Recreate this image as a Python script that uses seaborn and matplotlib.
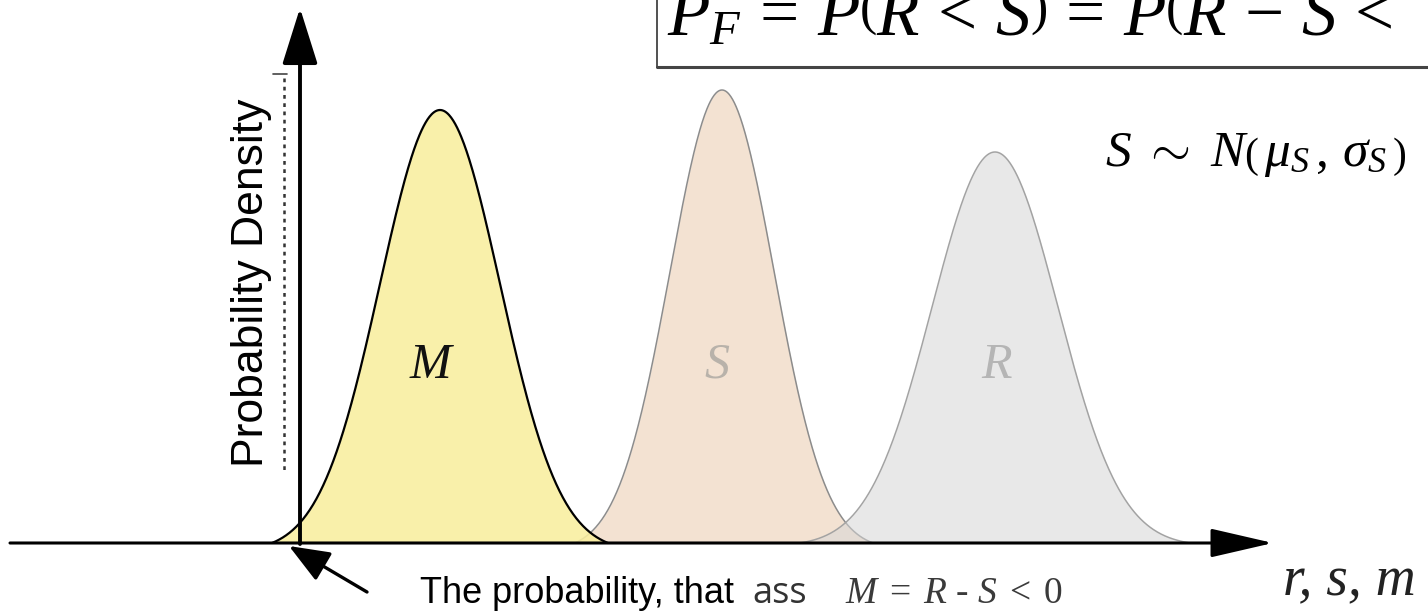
import numpy as np
import pandas as pd
import matplotlib
matplotlib.use("Agg")
import matplotlib.pyplot as plt
import seaborn as sns
from matplotlib.patches import Rectangle

# Safety margin M = R - S, load S and resistance R
names = ["M", "S", "R"]
means = [1.40, 4.22, 6.95]
sigmas = [0.60, 0.52, 0.63]
peaks = [0.433, 0.453, 0.391]
lows = [-0.28, 2.75, 5.00]
highs = [3.08, 5.73, 8.90]

fills = ["#f9ee9e", "#f3e2d2", "#d6d6d6"]
fill_alpha = [0.88, 1.0, 0.55]
edges = ["#000000", "#8c8c8c", "#a3a3a3"]
edge_w = [1.6, 1.1, 1.1]
label_colors = ["#111111", "#b8b2aa", "#b5b5b5"]
label_x = [430, 717, 997]

W, H = 1428, 612
X0, Y0 = 300, 543          # where the two axes cross, in pixels
SX, SY = 100.0, 1000.0     # pixels per data unit


def dx(p):
    return (p - X0) / SX


def dy(p):
    return (Y0 - p) / SY


sns.set_theme(style="white")
plt.rcParams["font.family"] = ["Liberation Sans", "DejaVu Sans"]
plt.rcParams["text.color"] = "black"
plt.rcParams["mathtext.fontset"] = "custom"
plt.rcParams["mathtext.rm"] = "Liberation Serif"
plt.rcParams["mathtext.it"] = "Liberation Serif:italic"
plt.rcParams["mathtext.bf"] = "Liberation Serif:bold"

fig = plt.figure(figsize=(W / 100, H / 100), dpi=100)
ax = fig.add_axes([0, 0, 1, 1])

# bell curves, tapered so that each one meets the baseline at its ends
frames = []
for n, mu, sg, pk, lo, hi in zip(names, means, sigmas, peaks, lows, highs):
    x = np.linspace(lo, hi, 500)
    g = np.exp(-0.5 * ((x - mu) / sg) ** 2)
    e = np.where(x < mu, g[0], g[-1])
    y = pk * np.clip((g - e) / (1 - e), 0, None)
    frames.append(pd.DataFrame({"x": x, "density": y, "dist": n}))
curves = pd.concat(frames, ignore_index=True)

order = ["S", "R", "M"]
z = {"S": 2, "R": 3, "M": 5}
for n in order:
    i = names.index(n)
    d = curves[curves["dist"] == n]
    ax.fill_between(d["x"], 0, d["density"], color=fills[i],
                    alpha=fill_alpha[i], lw=0, zorder=z[n])
    sns.lineplot(data=d, x="x", y="density", ax=ax, color=edges[i],
                 lw=edge_w[i], zorder=z[n] + 0.5, legend=False)
    ax.text(dx(label_x[i]), dy(378), n, family="Liberation Serif",
            style="italic", fontsize=36, color=label_colors[i],
            ha="center", va="baseline", zorder=8)
ax.set_xlim(dx(0), dx(W))
ax.set_ylim(dy(H), dy(0))
ax.axis("off")

# coordinate axes with arrow heads
ax.annotate("", xy=(dx(1273), 0), xytext=(dx(10), 0),
            arrowprops=dict(arrowstyle="-|>,head_length=39,head_width=9",
                            mutation_scale=1, lw=2.2, color="black",
                            shrinkA=0, shrinkB=0), zorder=9)
ax.annotate("", xy=(0, dy(8)), xytext=(0, dy(544)),
            arrowprops=dict(arrowstyle="-|>,head_length=35,head_width=11",
                            mutation_scale=1, lw=2.8, color="black",
                            shrinkA=0, shrinkB=0), zorder=9)

# dotted guide next to the vertical axis
ax.plot([dx(284), dx(284)], [dy(78), dy(470)], ls=(0, (1.5, 1.8)),
        color="#333333", lw=1.8, zorder=4)
ax.plot([dx(273), dx(287)], [dy(74), dy(74)], color="#444444", lw=1.2, zorder=4)

# pointer to the failure tail
ax.annotate("", xy=(dx(289), dy(546)), xytext=(dx(367), dy(592)),
            arrowprops=dict(arrowstyle="-|>,head_length=25,head_width=10",
                            mutation_scale=1, lw=2.4, color="black",
                            shrinkA=0, shrinkB=0), zorder=9)

# failure probability formula in a box
ax.add_patch(Rectangle((dx(657), dy(68)), dx(1440) - dx(657), dy(-10) - dy(68),
                       fill=False, ec="#222222", lw=1.1, zorder=6))
ax.plot([dx(657), dx(1440)], [dy(67), dy(67)], color="#444444", lw=2.2, zorder=6)
ax.text(dx(667), dy(35),
        r"$P_F\,=\,P\left(R\,<\,S\right)\,=\,P\left(R\,-\,S\,<\right.$",
        fontsize=50, ha="left", va="baseline", zorder=7)

ax.text(dx(1105), dy(166),
        r"$S\ \sim\ N\left(\,\mu_S\,,\,\sigma_S\,\right)$",
        fontsize=37, ha="left", va="baseline", zorder=7)

ax.text(dx(251), dy(283), "Probability Density", rotation=90, fontsize=32,
        ha="center", va="center", zorder=7)

ax.text(dx(420), dy(603), "The probability, that", fontsize=26,
        ha="left", va="baseline", zorder=7)
ax.text(dx(752), dy(603), "ass", family=["Open Sans", "DejaVu Sans"], fontsize=26,
        color="#333333", ha="left", va="baseline", zorder=7)
ax.text(dx(845), dy(603), r"$M\;=\;R$ - $S\;<\;0$", family="Liberation Serif",
        fontsize=27, color="#3a3a3a", ha="left", va="baseline", zorder=7)

ax.text(dx(1283), dy(595), "r, s, m", family="Liberation Serif", style="italic",
        fontsize=40, color="#222222", ha="left", va="baseline", zorder=7)

fig.savefig("out.png", dpi=100)
